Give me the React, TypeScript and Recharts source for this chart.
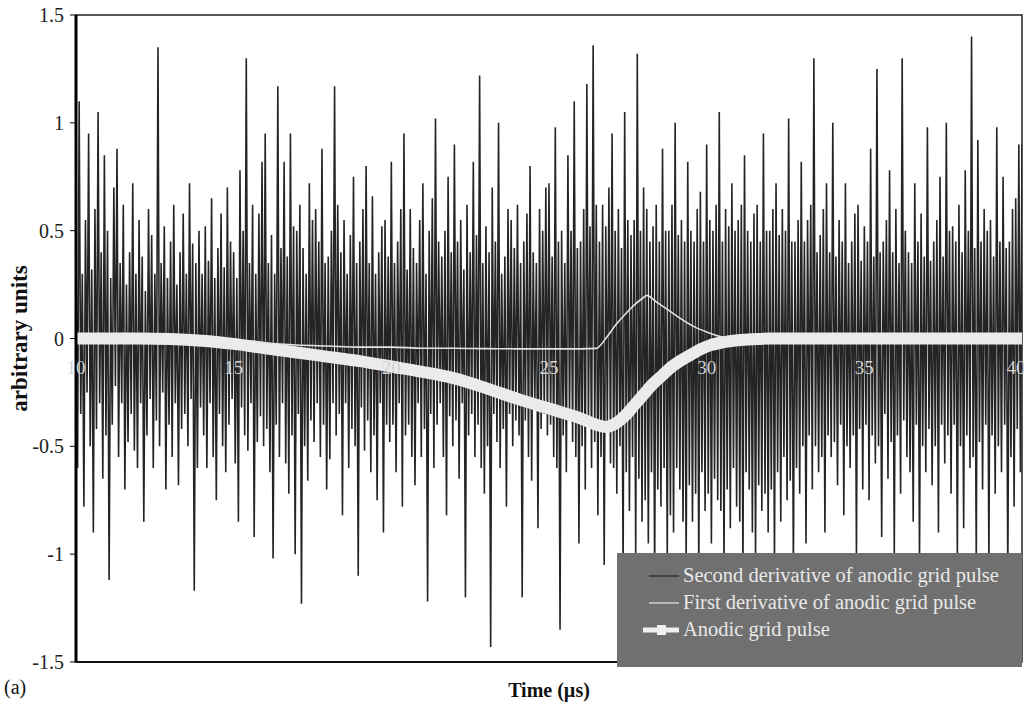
import React from 'react';
import { LineChart, Line, XAxis, YAxis, ReferenceArea, Legend } from 'recharts';

// ---- Data ----
const xTicks = [10, 15, 20, 25, 30, 35, 40];
const yTicks = [-1.5, -1, -0.5, 0, 0.5, 1, 1.5];

// Second derivative (noise), sampled every 0.05 µs from 10 to 40 µs (one row = 1 µs)
const NOISE_START = 10;
const NOISE_STEP = 0.05;
const secondDerivValues = [
  0.45, -0.6, 1.1, -0.35, 0.3, -0.78, 0.55, -0.25, 0.95, -0.5, 0.32, -0.9, 0.6, -0.42, 1.05, -0.3, 0.4, -0.65, 0.85, -0.45,
  0.5, -1.12, 0.28, -0.4, 0.7, -0.22, 0.88, -0.55, 0.35, -0.3, 0.62, -0.7, 0.25, -0.48, 0.4, -0.35, 0.72, -0.52, 0.3, -0.6,
  0.55, -0.3, 0.38, -0.85, 0.22, -0.45, 0.6, -0.28, 0.48, -0.6, 0.3, -0.38, 1.35, -0.5, 0.35, -0.25, 0.52, -0.7, 0.28, -0.4,
  0.45, -0.55, 0.62, -0.3, 0.25, -0.68, 0.4, -0.42, 0.58, -0.35, 0.3, -0.5, 0.72, -0.28, 0.44, -1.17, 0.35, -0.6, 0.5, -0.32,
  0.3, -0.45, 0.52, -0.6, 0.36, -0.3, 0.65, -0.55, 0.28, -0.75, 0.42, -0.35, 0.58, -0.5, 0.33, -0.62, 0.7, -0.4, 0.45, -0.28,
  0.4, -0.58, 0.28, -0.85, 0.78, -0.32, 0.5, -0.45, 1.3, -0.52, 0.35, -0.3, 0.62, -0.92, 0.3, -0.48, 0.58, -0.36, 0.82, -0.5,
  0.95, -0.42, 0.35, -0.62, 0.48, -1.02, 0.3, -0.4, 1.17, -0.55, 0.42, -0.3, 0.82, -0.58, 0.38, -0.72, 0.95, -0.45, 0.52, -1.0,
  0.5, -0.35, 0.62, -1.23, 0.42, -0.5, 0.3, -0.66, 0.72, -0.38, 0.55, -0.48, 0.6, -0.3, 0.45, -0.55, 0.88, -0.4, 0.35, -0.7,
  0.38, -0.56, 0.5, -0.3, 1.17, -0.45, 0.62, -0.35, 0.4, -0.82, 0.55, -0.3, 0.3, -0.6, 0.48, -0.42, 0.75, -0.5, 0.35, -1.1,
  0.45, -0.32, 0.6, -0.52, 0.8, -0.38, 0.35, -0.62, 0.66, -0.45, 0.3, -0.75, 0.4, -0.3, 0.52, -0.9, 0.55, -0.4, 0.38, -0.48,
  0.82, -0.4, 0.35, -0.62, 0.45, -0.3, 0.6, -0.78, 0.95, -0.45, 0.32, -0.4, 0.6, -0.55, 0.42, -0.68, 0.35, -0.3, 0.55, -0.55,
  0.72, -0.42, 0.3, -1.22, 0.5, -0.35, 0.65, -0.6, 1.02, -0.4, 0.45, -0.3, 0.38, -0.55, 0.5, -0.82, 0.75, -0.36, 0.4, -0.5,
  0.9, -0.38, 0.45, -0.65, 0.55, -0.3, 0.32, -1.2, 0.62, -0.45, 0.4, -0.35, 0.82, -0.55, 0.48, -0.4, 1.22, -0.6, 0.35, -0.72,
  0.52, -0.5, 0.4, -1.43, 0.7, -0.35, 0.45, -0.48, 1.0, -0.6, 0.3, -0.42, 0.38, -0.78, 0.6, -0.35, 0.55, -0.5, 0.42, -0.38,
  0.62, -0.45, 0.35, -1.2, 0.45, -0.38, 0.58, -0.55, 0.8, -0.66, 0.4, -0.3, 0.35, -0.88, 0.6, -0.42, 0.5, -0.35, 0.7, -0.45,
  0.72, -0.4, 0.38, -0.55, 0.98, -0.6, 0.45, -1.35, 0.5, -0.45, 0.35, -0.62, 0.85, -0.38, 0.5, -0.48, 1.1, -0.55, 0.42, -0.95,
  0.45, -0.5, 0.6, -0.7, 1.18, -0.4, 0.52, -0.6, 1.36, -0.48, 0.62, -0.82, 0.45, -0.55, 0.62, -1.05, 0.52, -0.4, 0.7, -0.58,
  0.95, -0.6, 0.5, -0.72, 0.6, -0.5, 0.42, -1.08, 1.05, -0.62, 0.55, -0.8, 0.48, -0.55, 0.55, -1.0, 1.32, -0.65, 0.5, -0.85,
  0.7, -0.75, 0.6, -0.95, 0.45, -0.62, 0.52, -1.12, 0.62, -0.7, 0.45, -0.78, 0.88, -0.6, 0.5, -1.02, 0.5, -0.82, 0.62, -0.9,
  1.0, -0.6, 0.48, -0.7, 0.55, -0.85, 0.45, -1.05, 0.82, -0.68, 0.5, -0.85, 0.45, -0.72, 0.6, -1.1, 0.68, -0.62, 0.45, -0.8,
  0.9, -0.72, 0.55, -0.95, 0.5, -0.65, 0.62, -0.75, 1.05, -0.8, 0.45, -1.05, 0.6, -0.7, 0.52, -0.88, 0.72, -0.6, 0.5, -0.78,
  0.55, -0.85, 0.62, -1.1, 0.85, -0.62, 0.5, -0.7, 0.45, -0.9, 0.58, -1.02, 0.62, -0.68, 0.45, -0.8, 0.95, -0.72, 0.5, -0.9,
  0.5, -0.7, 0.6, -1.05, 0.72, -0.62, 0.48, -0.85, 0.6, -0.55, 0.5, -0.75, 1.02, -0.66, 0.45, -1.08, 0.45, -0.6, 0.55, -0.72,
  0.82, -0.5, 0.45, -0.95, 0.55, -0.45, 0.62, -0.7, 1.3, -0.5, 0.4, -0.62, 0.48, -0.55, 0.6, -0.9, 0.72, -0.45, 0.4, -0.55,
  1.0, -0.48, 0.38, -0.68, 0.55, -0.4, 0.45, -0.82, 0.72, -0.5, 0.35, -0.6, 0.45, -0.45, 0.58, -1.02, 0.62, -0.42, 0.36, -0.7,
  0.52, -0.4, 0.45, -0.75, 0.88, -0.45, 0.38, -0.58, 1.25, -0.5, 0.4, -0.92, 0.45, -0.35, 0.55, -0.65, 0.78, -0.48, 0.4, -1.0,
  0.6, -0.45, 0.35, -0.72, 1.3, -0.38, 0.5, -0.55, 0.4, -0.62, 0.35, -0.85, 0.72, -0.4, 0.45, -1.05, 0.58, -0.5, 0.38, -0.62,
  0.98, -0.42, 0.36, -0.68, 0.45, -0.5, 0.55, -0.9, 0.75, -0.4, 0.38, -0.58, 1.0, -0.45, 0.5, -0.72, 0.52, -0.4, 0.45, -1.02,
  0.62, -0.5, 0.4, -0.88, 0.78, -0.45, 0.5, -0.6, 1.4, -0.55, 0.42, -1.05, 0.92, -0.48, 0.45, -0.7, 0.6, -0.4, 0.5, -1.05,
  0.55, -0.45, 0.38, -0.72, 0.98, -0.5, 0.45, -0.62, 0.75, -0.4, 0.42, -1.1, 0.45, -0.55, 0.6, -0.78, 0.65, -0.42, 0.9, -0.62,
  0.9,
];

// First derivative of anodic grid pulse
const firstDerivTimes = [15.5, 16, 17, 18, 19, 20, 21, 22, 23, 24, 25, 26, 26.5, 26.8, 27.1, 27.4, 27.7, 28.0, 28.1, 28.4, 28.8, 29.2, 29.6, 30.0, 30.4, 30.8];
const firstDerivValues = [-0.01, -0.02, -0.03, -0.035, -0.04, -0.04, -0.045, -0.045, -0.047, -0.048, -0.048, -0.048, -0.046, 0.0, 0.06, 0.11, 0.155, 0.19, 0.2, 0.17, 0.13, 0.09, 0.055, 0.03, 0.01, 0.0];

// Anodic grid pulse
const pulseTimes = [10, 12, 13, 14, 15, 16, 17, 18, 19, 20, 21, 22, 23, 24, 25, 26, 26.5, 26.8, 27.1, 27.4, 27.7, 28.0, 28.3, 28.6, 28.9, 29.2, 29.5, 29.8, 30.1, 30.5, 31, 31.5, 32, 40];
const pulseValues = [0, 0, -0.002, -0.01, -0.025, -0.045, -0.065, -0.085, -0.105, -0.13, -0.155, -0.185, -0.23, -0.28, -0.325, -0.37, -0.4, -0.41, -0.395, -0.36, -0.31, -0.26, -0.21, -0.17, -0.13, -0.1, -0.075, -0.05, -0.032, -0.018, -0.008, -0.003, 0, 0];

const noiseData = secondDerivValues.map((v, i) => ({ t: NOISE_START + i * NOISE_STEP, v }));
const firstDerivData = firstDerivTimes.map((t, i) => ({ t, v: firstDerivValues[i] }));
const pulseData = pulseTimes.map((t, i) => ({ t, v: pulseValues[i] }));

// ---- Layout / style ----
const W = 1024;
const H = 716;
const MARGIN = { top: 15, right: 2, bottom: 0, left: 0 };
const X_AXIS_H = 54;
const Y_AXIS_W = 76;
const PLOT_H = H - MARGIN.top - MARGIN.bottom - X_AXIS_H;
const SERIF = '"Liberation Serif", "Times New Roman", serif';

const NOISE_COLOR = '#242424';
const WHITE_LINE = '#ebebeb';

const XTick = (props: any) => {
  const { x, payload } = props;
  const labelY = MARGIN.top + PLOT_H / 2 + 35;
  return (
    <text x={x} y={labelY} textAnchor="middle" fill="#d2d2d2" fontSize={19} fontFamily={SERIF}>
      {payload.value}
    </text>
  );
};

const LegendBox = () => (
  <div
    style={{
      width: 405,
      height: 114,
      background: '#707070',
      color: '#e8e8e8',
      fontFamily: SERIF,
      fontSize: 20.5,
      boxSizing: 'border-box',
      paddingTop: 9,
    }}
  >
    {[
      { label: 'Second derivative of anodic grid pulse', kind: 'dark' },
      { label: 'First derivative of anodic grid pulse', kind: 'thin' },
      { label: 'Anodic grid pulse', kind: 'thick' },
    ].map((it) => (
      <div key={it.label} style={{ display: 'flex', alignItems: 'center', height: 27, whiteSpace: 'nowrap' }}>
        <svg width={66} height={20} style={{ flex: 'none' }}>
          {it.kind === 'dark' && <line x1={32} x2={62} y1={10} y2={10} stroke="#333" strokeWidth={1.5} />}
          {it.kind === 'thin' && <line x1={32} x2={62} y1={10} y2={10} stroke="#e8e8e8" strokeWidth={1.2} />}
          {it.kind === 'thick' && (
            <g>
              <line x1={26} x2={62} y1={10} y2={10} stroke="#f0f0f0" strokeWidth={5} />
              <rect x={40} y={5} width={9} height={10} fill="#f0f0f0" />
            </g>
          )}
        </svg>
        <span>{it.label}</span>
      </div>
    ))}
  </div>
);

export default function App() {
  return (
    <div style={{ position: 'absolute', left: 0, top: 0, width: W, height: H, background: '#fff' }}>
      <LineChart width={W} height={H} margin={MARGIN}>
        <XAxis
          type="number"
          dataKey="t"
          domain={[10, 40]}
          ticks={xTicks}
          allowDataOverflow
          height={X_AXIS_H}
          axisLine={{ stroke: '#111', strokeWidth: 2 }}
          tickLine={false}
          tick={<XTick />}
          label={{
            content: (p: any) => {
              const vb = p.viewBox || {};
              return (
                <text
                  x={vb.x + vb.width / 2}
                  y={vb.y + 35}
                  textAnchor="middle"
                  fontFamily={SERIF}
                  fontWeight="bold"
                  fontSize={20}
                  fill="#111"
                >
                  Time (µs)
                </text>
              );
            },
          }}
        />
        <YAxis
          type="number"
          domain={[-1.5, 1.5]}
          ticks={yTicks}
          allowDataOverflow
          width={Y_AXIS_W}
          axisLine={{ stroke: '#000', strokeWidth: 3 }}
          tickLine={{ stroke: '#000', strokeWidth: 1 }}
          tickSize={6}
          tickMargin={6}
          tick={{ fill: '#222', fontSize: 20, fontFamily: SERIF }}
          tickFormatter={(v: number) => String(v)}
          label={{
            content: (p: any) => {
              const vb = p.viewBox || {};
              const cx = vb.x + 19;
              const cy = vb.y + vb.height / 2;
              return (
                <text
                  x={cx}
                  y={cy}
                  transform={`rotate(-90 ${cx} ${cy})`}
                  textAnchor="middle"
                  dominantBaseline="central"
                  fontFamily={SERIF}
                  fontWeight="bold"
                  fontSize={23}
                  fill="#111"
                >
                  arbitrary units
                </text>
              );
            },
          }}
        />
        <Line
          data={noiseData}
          dataKey="v"
          type="linear"
          stroke={NOISE_COLOR}
          strokeWidth={1.6}
          dot={false}
          isAnimationActive={false}
        />
        <Line
          data={pulseData}
          dataKey="v"
          type="monotone"
          stroke={WHITE_LINE}
          strokeWidth={12}
          dot={false}
          isAnimationActive={false}
        />
        <Line
          data={firstDerivData}
          dataKey="v"
          type="monotone"
          stroke="#e4e4e4"
          strokeWidth={1.6}
          dot={false}
          isAnimationActive={false}
        />
        <ReferenceArea x1={10} x2={40} y1={-1.5} y2={1.5} fill="none" stroke="#222" strokeWidth={1.5} ifOverflow="visible" />
        <Legend
          layout="vertical"
          align="center"
          verticalAlign="middle"
          content={<LegendBox />}
          wrapperStyle={{ left: 617, top: 553, width: 405, height: 114 }}
        />
      </LineChart>
      <div
        style={{
          position: 'absolute',
          left: 4,
          top: 676,
          fontFamily: SERIF,
          fontSize: 20,
          color: '#111',
        }}
      >
        (a)
      </div>
    </div>
  );
}
